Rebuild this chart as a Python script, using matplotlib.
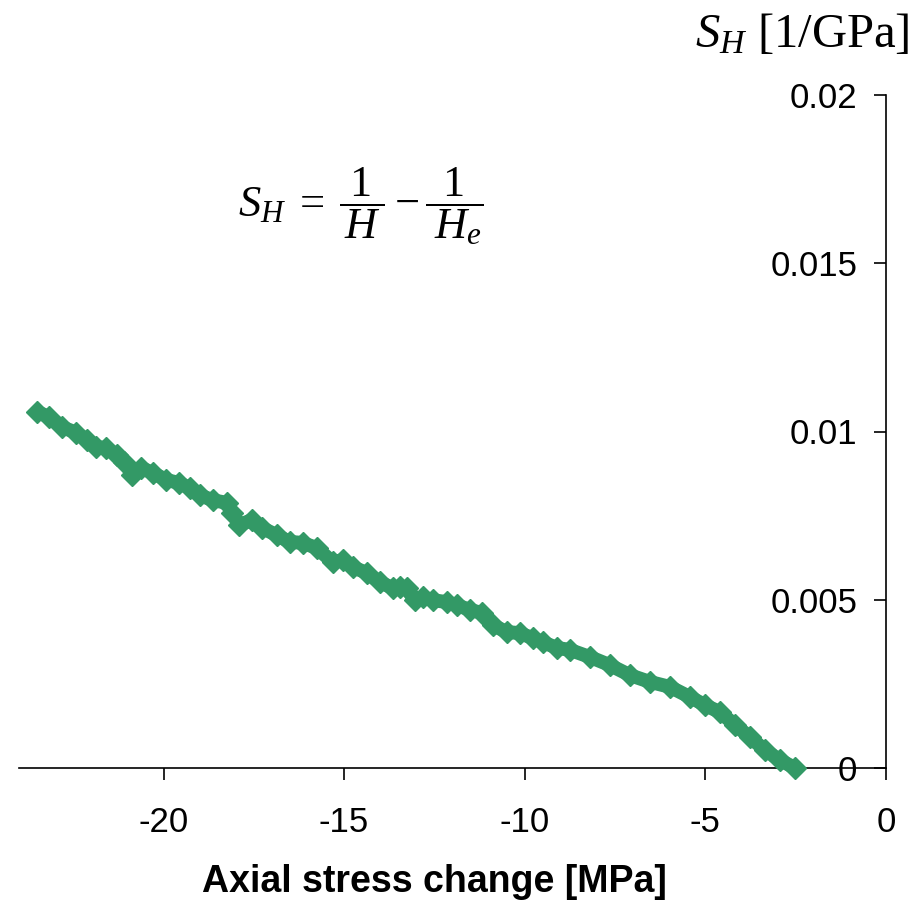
import matplotlib
matplotlib.use("Agg")
import matplotlib.pyplot as plt

# Axial stress change [MPa] and compliance change S_H [1/GPa]
stress = [-23.49, -23.16, -22.80, -22.41, -22.13, -21.86, -21.58, -21.30, -21.08,
          -20.86, -20.61, -20.30, -19.92, -19.56, -19.28, -19.00, -18.64, -18.25,
          -18.09, -17.90, -17.56, -17.26, -16.87, -16.51, -16.15, -15.76, -15.32,
          -15.04, -14.76, -14.38, -14.02, -13.66, -13.46, -13.27, -13.05, -12.83,
          -12.55, -12.16, -11.88, -11.52, -11.19, -10.89, -10.50, -10.14, -9.78,
          -9.50, -9.11, -8.75, -8.20, -7.65, -7.09, -6.54, -5.98, -5.43, -5.01,
          -4.60, -4.18, -3.77, -3.35, -2.94, -2.52]
s_h = [0.01058, 0.01043, 0.01013, 0.00996, 0.00975, 0.00954, 0.00951, 0.00930, 0.00910,
       0.00871, 0.00892, 0.00877, 0.00856, 0.00847, 0.00832, 0.00811, 0.00796, 0.00788,
       0.00758, 0.00722, 0.00737, 0.00713, 0.00692, 0.00672, 0.00669, 0.00654, 0.00612,
       0.00618, 0.00597, 0.00580, 0.00553, 0.00535, 0.00538, 0.00535, 0.00499, 0.00508,
       0.00499, 0.00493, 0.00484, 0.00470, 0.00461, 0.00425, 0.00404, 0.00401, 0.00386,
       0.00374, 0.00357, 0.00351, 0.00330, 0.00306, 0.00276, 0.00256, 0.00241, 0.00211,
       0.00187, 0.00166, 0.00128, 0.00092, 0.00053, 0.00024, 0.00000]

x_ticks = [-20, -15, -10, -5, 0]
x_tick_labels = ["-20", "-15", "-10", "-5", "0"]
y_ticks = [0, 0.005, 0.01, 0.015, 0.02]
y_tick_labels = ["0", "0.005", "0.01", "0.015", "0.02"]

plt.rcParams["mathtext.fontset"] = "custom"
plt.rcParams["mathtext.rm"] = "Liberation Serif"
plt.rcParams["mathtext.it"] = "Liberation Serif:italic"
plt.rcParams["mathtext.bf"] = "Liberation Serif:bold"

W, H = 915, 909
fig = plt.figure(figsize=(W / 100, H / 100), dpi=100)
ax = fig.add_axes([19 / W, 1 - 768 / H, (886 - 19) / W, (768 - 95) / H])

green = "#339966"
ax.plot(stress, s_h, color=green, lw=10, marker="D", ms=11, mec=green, mfc=green,
        solid_joinstyle="round", solid_capstyle="round", zorder=3, clip_on=False)

ax.set_xlim(-24, 0)
ax.set_ylim(0, 0.02)

ax.spines["top"].set_visible(False)
ax.spines["right"].set_visible(False)
ax.spines["left"].set_position(("data", 0))
ax.spines["bottom"].set_position(("data", 0))
for side in ("left", "bottom"):
    ax.spines[side].set_linewidth(1.2)
    ax.spines[side].set_zorder(2)

ax.set_xticks(x_ticks)
ax.set_xticklabels(x_tick_labels, fontfamily="Liberation Sans", fontsize=25)
ax.set_yticks(y_ticks)
ax.set_yticklabels(y_tick_labels, fontfamily="Liberation Sans", fontsize=25)
ax.tick_params(axis="x", direction="out", length=8.6, width=1.2, pad=19)
ax.tick_params(axis="y", direction="out", length=8.6, width=1.2, pad=12)

fig.text(434 / W, 1 - 882 / H, "Axial stress change [MPa]", fontfamily="Liberation Sans",
         fontweight="bold", fontsize=27, ha="center", va="center")

fig.text(910 / W, 1 - 35 / H, r"$S_H$ [1/GPa]", fontfamily="Liberation Serif",
         fontsize=35, ha="right", va="center")

fig.text(238 / W, 1 - 206 / H,
         r"$S_{H}\;=\;\dfrac{1}{\,H\,}-\dfrac{1}{\;H_{e}}$",
         fontsize=32, ha="left", va="center")

fig.savefig("out.png", dpi=100)
